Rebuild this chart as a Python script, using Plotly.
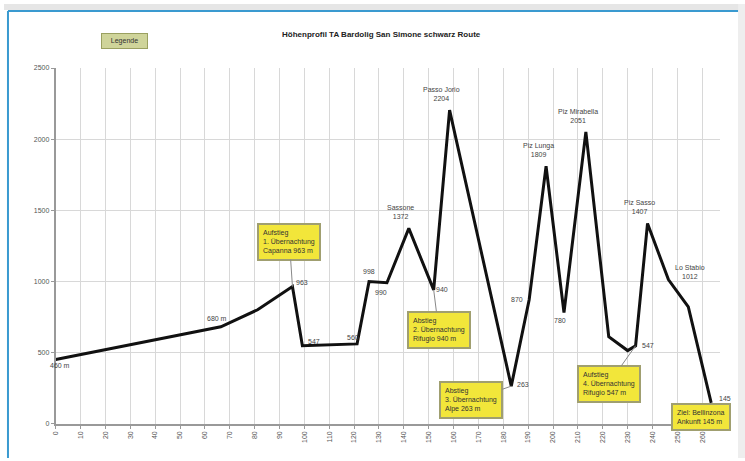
import plotly.graph_objects as go

# ---------------- data ----------------
dist_km = [0, 66.4, 81.2, 95.2, 99.2, 121.2, 126.0, 133.2, 142.0, 152.0, 158.4,
           183.2, 190.4, 197.2, 204.4, 213.2, 222.4, 230.0, 233.2, 238.0, 246.4,
           254.4, 263.6]
elev_m = [450, 680, 800, 963, 547, 560, 998, 990, 1372, 940, 2204,
          263, 870, 1809, 780, 2051, 610, 513, 547, 1407, 1012,
          820, 145]

x_tick_vals = list(range(0, 270, 10))
x_tick_text = [str(v) for v in x_tick_vals]
y_tick_vals = [0, 500, 1000, 1500, 2000, 2500]
y_tick_text = ["0", "500", "1000", "1500", "2000", "2500"]

title_text = "Höhenprofil TA Bardolig San Simone schwarz Route"
legend_box_text = "Legende"

# point labels
point_idx = [0, 1, 3, 4, 5, 6, 7, 9, 11, 12, 14, 18, 22]
point_lbl = ["460 m", "680 m", "963", "547", "560", "998", "990", "940",
             "263", "870", "780", "547", "145"]

# named peaks
peak_idx = [8, 10, 13, 15, 19, 20]
peak_name = ["Sassone", "Passo Jorio", "Piz Lunga", "Piz Mirabella", "Piz Sasso", "Lo Stabio"]

# yellow boxes
box_idx = [3, 9, 11, 18, 22]
box_text = ["Aufstieg<br>1. Übernachtung<br>Capanna 963 m",
            "Abstieg<br>2. Übernachtung<br>Rifugio 940 m",
            "Abstieg<br>3. Übernachtung<br>Alpe 263 m",
            "Aufstieg<br>4. Übernachtung<br>Rifugio 547 m",
            "Ziel: Bellinzona<br>Ankunft 145 m"]

# ---------------- figure ----------------
W, H = 745, 461
x0px, x1px = 52, 720
y0px, y1px = 426, 65


def px_x(p):
    return p / W


def px_y(p):
    return 1 - p / H


fig = go.Figure()
fig.add_trace(go.Scatter(x=dist_km, y=elev_m, mode="lines",
                         line=dict(color="#111111", width=3), hoverinfo="skip",
                         showlegend=False))

FAM = "Liberation Sans, Arial"
font_small = dict(family=FAM, size=7, color="#444444")

ann = []
ann.append(dict(text="<b>" + title_text + "</b>", xref="paper", yref="paper",
                x=px_x(380), y=px_y(31), xanchor="center", yanchor="middle",
                showarrow=False, font=dict(family=FAM, size=8, color="#222222")))
ann.append(dict(text="&nbsp;&nbsp;&nbsp;" + legend_box_text + "&nbsp;&nbsp;&nbsp;",
                xref="paper", yref="paper",
                x=px_x(121), y=px_y(38), xanchor="center", yanchor="middle",
                showarrow=False, bgcolor="#cfd49a", bordercolor="#9aa060", borderwidth=1,
                borderpad=3, font=dict(family=FAM, size=7, color="#333333")))

offsets = {0: (4, 6), 1: (-4, -8), 3: (10, -4), 4: (12, -4), 5: (-4, -6), 6: (0, -10),
           7: (-6, 10), 9: (8, 0), 11: (12, -2), 12: (-12, 0), 14: (-4, 8), 18: (12, 0), 22: (14, -4)}
for i, t in zip(point_idx, point_lbl):
    dx, dy = offsets[i]
    ann.append(dict(x=dist_km[i], y=elev_m[i], text=t, showarrow=False, xshift=dx, yshift=-dy,
                    font=font_small))

peak_shift = {8: (-8, 16), 10: (-8, 16), 13: (-8, 16), 15: (-8, 16), 19: (-8, 16), 20: (22, 8)}
for i, nm in zip(peak_idx, peak_name):
    dx, dy = peak_shift[i]
    ann.append(dict(x=dist_km[i], y=elev_m[i], text=nm + "<br>" + str(elev_m[i]),
                    showarrow=False, yshift=dy, xshift=dx, font=font_small))

box_off = {3: (-3, -45), 9: (5, 40), 11: (-40, 14), 18: (-27, 38), 22: (-10, 14)}
for i, t in zip(box_idx, box_text):
    ax, ay = box_off[i]
    ann.append(dict(x=dist_km[i], y=elev_m[i], text=t, showarrow=True, arrowhead=0,
                    arrowwidth=1, arrowcolor="#888888", ax=ax, ay=ay, align="left",
                    bgcolor="#f2e63a", bordercolor="#a09f70", borderwidth=2, borderpad=4,
                    font=dict(family=FAM, size=7, color="#333333")))

fig.update_layout(
    width=W, height=H,
    margin=dict(l=0, r=0, t=0, b=0),
    paper_bgcolor="white", plot_bgcolor="white",
    xaxis=dict(domain=[x0px / W, x1px / W], range=[0, (x1px - x0px) / 25 * 10],
               tickvals=x_tick_vals, ticktext=x_tick_text, tickangle=-90,
               showgrid=True, gridcolor="#d8d8d8", gridwidth=1,
               showline=True, linecolor="#999999", linewidth=2,
               ticks="outside", ticklen=3, tickcolor="#999999",
               tickfont=dict(family=FAM, size=7, color="#555555"),
               zeroline=False, fixedrange=True),
    yaxis=dict(domain=[1 - y0px / H, 1 - y1px / H], range=[0, 2500],
               tickvals=y_tick_vals, ticktext=y_tick_text,
               showgrid=True, gridcolor="#d8d8d8", gridwidth=1,
               showline=True, linecolor="#999999", linewidth=2,
               ticks="outside", ticklen=3, tickcolor="#999999",
               tickfont=dict(family=FAM, size=7, color="#555555"),
               zeroline=False, fixedrange=True),
    annotations=ann,
    shapes=[
        dict(type="rect", xref="paper", yref="paper", x0=0, x1=1, y0=px_y(6), y1=1,
             fillcolor="#e6e6e6", line=dict(width=0), layer="below"),
        dict(type="rect", xref="paper", yref="paper", x0=px_x(738), x1=1, y0=0, y1=1,
             fillcolor="#eeeeee", line=dict(width=0), layer="below"),
        dict(type="line", xref="paper", yref="paper", x0=px_x(4), x1=px_x(738), y0=px_y(7), y1=px_y(7),
             line=dict(color="#3a9ad0", width=2)),
        dict(type="line", xref="paper", yref="paper", x0=px_x(4), x1=px_x(4), y0=0, y1=px_y(7),
             line=dict(color="#3a9ad0", width=2)),
    ],
)

fig.write_html("out.html")
